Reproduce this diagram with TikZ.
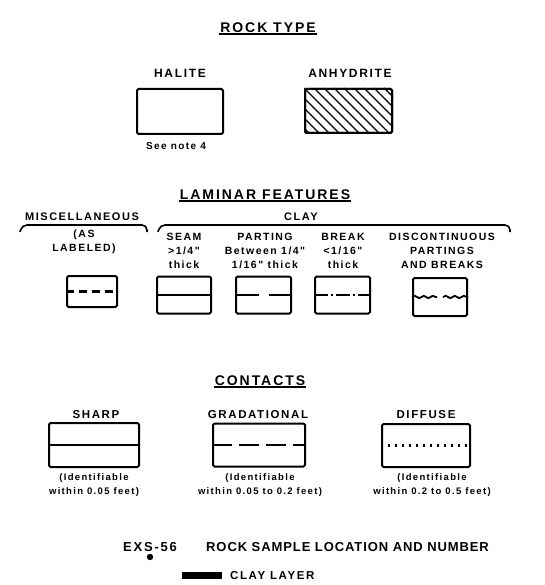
\documentclass[tikz,border=0pt]{standalone}
\usepackage{fontspec}
\setmainfont{Liberation Sans}
\newfontfamily\lgd{Liberation Sans}[LetterSpace=14]
\newfontfamily\lgdn{Liberation Sans}[LetterSpace=7]
\usetikzlibrary{positioning, decorations.pathmorphing}
\tikzset{
  hdr/.style    = {font=\lgd\bfseries\fontsize{14}{16}\selectfont, inner sep=1pt},
  lbl/.style    = {font=\lgd\bfseries\fontsize{11.5}{14}\selectfont, inner sep=1pt, align=center},
  sublbl/.style = {font=\lgd\bfseries\fontsize{10.5}{14}\selectfont, inner sep=1pt, align=center},
  capt/.style   = {font=\lgd\bfseries\fontsize{9.5}{14}\selectfont, inner sep=1pt, align=center},
  legbox/.style = {draw, line width=2pt, rounded corners=1.5pt, inner sep=0pt},
  uline/.style  = {line width=1.6pt},
  brc/.style    = {line width=1.6pt, rounded corners=5pt},
  inl/.style    = {line width=1.8pt},
}

\begin{document}
\begin{tikzpicture}[x=1pt, y=-1pt]
  \useasboundingbox (0,0) rectangle (544,585);
  % --- rock type ---
  \node[hdr] at (268,28) (rt) {ROCK TYPE};
  \draw[uline] (rt.south west) -- (rt.south east);

  \node[lbl, font=\lgd\bfseries\fontsize{12}{14}\selectfont] at (180,73) (hal) {HALITE};
  \node[legbox, minimum width=86pt, minimum height=45pt] at (180,111.5) (halbox) {};
  \node[capt, font=\lgd\bfseries\fontsize{10}{12}\selectfont] at (176,146) (note) {See note 4};

  \node[lbl, font=\lgd\bfseries\fontsize{12}{14}\selectfont] at (350,73) (anh) {ANHYDRITE};
  \node[legbox, minimum width=87pt, minimum height=44pt] at (348.5,111) (anhbox) {};
  \begin{scope}
    \clip (anhbox.south west) rectangle (anhbox.north east);
    \foreach \i in {-5,...,9}
      \draw[line width=1.4pt] ([xshift=\i*10pt]anhbox.north west) -- ++(50,50);
  \end{scope}
  \node[legbox, minimum width=87pt, minimum height=44pt] at (348.5,111) {};

  % --- laminar features ---
  \node[hdr] at (265,195) (lf) {LAMINAR FEATURES};
  \draw[uline] (lf.south west) -- (lf.south east);

  \node[lbl, font=\lgd\bfseries\fontsize{11}{13}\selectfont] at (82,217) (misc) {MISCELLANEOUS};
  \node[lbl, font=\lgd\bfseries\fontsize{11}{13}\selectfont] at (301,217) (clay) {CLAY};
  \coordinate (ma) at (20,232);  \coordinate (mb) at (147,232);
  \coordinate (ca) at (158,232); \coordinate (cb) at (510,232);
  \draw[brc] (ma) -- ++(2,-7) -| (mb);
  \draw[brc] (ca) -- ++(2,-7) -| (cb);

  \node[sublbl] at (84,242) (asl) {(AS\\LABELED)};
  \node[sublbl] at (184,251) (seamt) {SEAM\\>1/4"\\thick};
  \node[sublbl] at (265,251) (partt) {PARTING\\Between 1/4"\\1/16" thick};
  \node[sublbl] at (343,251) (brkt) {BREAK\\<1/16"\\thick};
  \node[sublbl] at (442,251) (disct) {DISCONTINUOUS\\PARTINGS\\AND BREAKS};

  \node[legbox, minimum width=50pt, minimum height=31pt] at (92,291.5) (miscbox) {};
  \node[legbox, minimum width=54pt, minimum height=37pt] at (184,295) (seam) {};
  \node[legbox, minimum width=55pt, minimum height=37pt] at (263.5,295) (part) {};
  \node[legbox, minimum width=55pt, minimum height=37pt] at (342.5,295) (brk) {};
  \node[legbox, minimum width=54pt, minimum height=38pt] at (440,297) (disc) {};

  \draw[inl, line width=2.2pt, dash pattern=on 8pt off 5pt] (miscbox.west) -- (miscbox.east);
  \draw[inl, line width=2.2pt] (seam.west) -- (seam.east);
  \draw[inl] (part.west) -- ([xshift=-5pt]part.center);
  \draw[inl] ([xshift=5pt]part.center) -- (part.east);
  \draw[inl, dash pattern=on 14pt off 3pt on 2pt off 3pt] (brk.west) -- (brk.east);
  \draw[inl, decorate, decoration={snake, amplitude=1.2pt, segment length=9pt}]
       (disc.west) -- ([xshift=-3pt]disc.center);
  \draw[inl, decorate, decoration={snake, amplitude=1.2pt, segment length=9pt}]
       ([xshift=3pt]disc.center) -- (disc.east);

  % --- contacts ---
  \node[hdr] at (260,381) (con) {CONTACTS};
  \draw[uline] (con.south west) -- (con.south east);

  \node[lbl] at (96,415) (shp) {SHARP};
  \node[lbl] at (258,415) (grd) {GRADATIONAL};
  \node[lbl] at (426,415) (dif) {DIFFUSE};

  \node[legbox, minimum width=90pt, minimum height=44pt] at (94,445) (shpbox) {};
  \node[legbox, minimum width=92pt, minimum height=43pt] at (259,445) (grdbox) {};
  \node[legbox, minimum width=88pt, minimum height=43pt] at (426,445.5) (difbox) {};

  \draw[inl] (shpbox.west) -- (shpbox.east);
  \draw[inl, dash pattern=on 20pt off 7pt] (grdbox.west) -- (grdbox.east);
  \draw[inl, line width=2.2pt, dash pattern=on 2pt off 5pt] (difbox.west) -- (difbox.east);

  \node[capt] at (94,485) (shpc) {(Identifiable\\within 0.05 feet)};
  \node[capt] at (260,485) (grdc) {(Identifiable\\within 0.05 to 0.2 feet)};
  \node[capt] at (432,485) (difc) {(Identifiable\\within 0.2 to 0.5 feet)};

  % --- sample, clay layer ---
  \node[sublbl, font=\lgd\bfseries\fontsize{13}{15}\selectfont] at (150,547) (exs) {EXS-56};
  \fill (150,557) circle (3.2pt) coordinate (dot);
  \node[lbl, font=\lgdn\bfseries\fontsize{13}{15}\selectfont, anchor=west] at (205,547) (rsl)
       {ROCK SAMPLE LOCATION AND NUMBER};
  \fill (182,572) rectangle (222,579) coordinate (bar);
  \node[lbl, font=\lgd\bfseries\fontsize{11.5}{13}\selectfont, anchor=west] at (229,575.5) (cll)
       {CLAY LAYER};
\end{tikzpicture}
\end{document}
